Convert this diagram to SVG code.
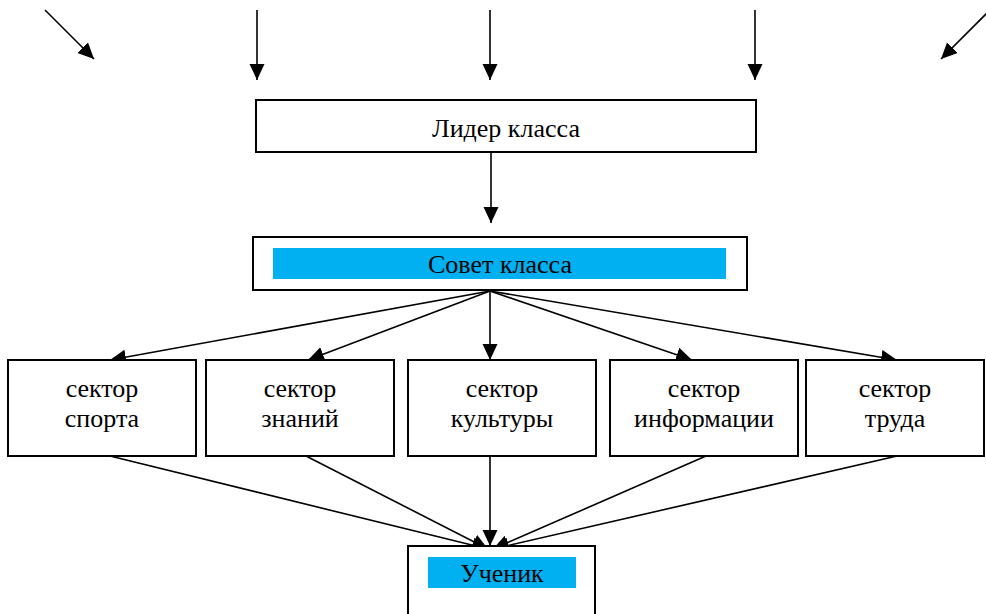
<svg xmlns="http://www.w3.org/2000/svg" width="986" height="614" viewBox="0 0 986 614">
<defs>
<style>
.box{fill:#fff;stroke:#000;stroke-width:2}
.hl{fill:#00B0F0;stroke:none}
.t{font-family:"Liberation Serif","Times New Roman",serif;font-size:26px;fill:#000;text-anchor:middle}
.c{stroke:#000;stroke-width:1.6;fill:none;marker-end:url(#ah)}
</style>
<marker id="ah" markerUnits="userSpaceOnUse" markerWidth="18" markerHeight="16" refX="16" refY="7.5" orient="auto">
<path d="M0,0 L16,7.5 L0,15 z" fill="#000"/>
</marker>
</defs>
<rect width="986" height="614" fill="#fff"/>
<g id="connectors">
<line class="c" x1="45" y1="10" x2="94" y2="59"/>
<line class="c" x1="257" y1="10" x2="257" y2="80"/>
<line class="c" x1="490" y1="10" x2="490" y2="80"/>
<line class="c" x1="755" y1="10" x2="755" y2="80"/>
<line class="c" x1="990" y1="10" x2="941" y2="59"/>
<line class="c" x1="491" y1="152" x2="491" y2="223"/>
<line class="c" x1="490" y1="291" x2="110" y2="360"/>
<line class="c" x1="490" y1="291" x2="308" y2="360"/>
<line class="c" x1="490" y1="291" x2="490" y2="360"/>
<line class="c" x1="490" y1="291" x2="692" y2="360"/>
<line class="c" x1="490" y1="291" x2="897" y2="360"/>
<line class="c" x1="110" y1="456" x2="488" y2="549"/>
<line class="c" x1="306" y1="456" x2="488" y2="549"/>
<line class="c" x1="490" y1="456" x2="490" y2="546"/>
<line class="c" x1="706" y1="456" x2="493" y2="549"/>
<line class="c" x1="897" y1="456" x2="493" y2="549"/>
</g>
<g id="lider">
<rect class="box" x="256" y="100" width="500" height="52"/>
<text class="t" x="506" y="137">Лидер класса</text>
</g>
<g id="sovet">
<rect class="box" x="253" y="237" width="494" height="53"/>
<rect class="hl" x="273" y="248" width="453" height="31"/>
<text class="t" x="500" y="273">Совет класса</text>
</g>
<g id="sport">
<rect class="box" x="8" y="360" width="188" height="96"/>
<text class="t" x="102" y="397">сектор</text>
<text class="t" x="102" y="427">спорта</text>
</g>
<g id="znaniy">
<rect class="box" x="206" y="360" width="188" height="96"/>
<text class="t" x="300" y="397">сектор</text>
<text class="t" x="300" y="427">знаний</text>
</g>
<g id="kultury">
<rect class="box" x="408" y="360" width="188" height="96"/>
<text class="t" x="502" y="397">сектор</text>
<text class="t" x="502" y="427">культуры</text>
</g>
<g id="informacii">
<rect class="box" x="610" y="360" width="188" height="96"/>
<text class="t" x="704" y="397">сектор</text>
<text class="t" x="704" y="427">информации</text>
</g>
<g id="truda">
<rect class="box" x="806" y="360" width="178" height="96"/>
<text class="t" x="895" y="397">сектор</text>
<text class="t" x="895" y="427">труда</text>
</g>
<g id="uchenik">
<rect class="box" x="408" y="546" width="187" height="80"/>
<rect class="hl" x="428" y="557" width="148" height="31"/>
<text class="t" x="502" y="582">Ученик</text>
</g>
</svg>
